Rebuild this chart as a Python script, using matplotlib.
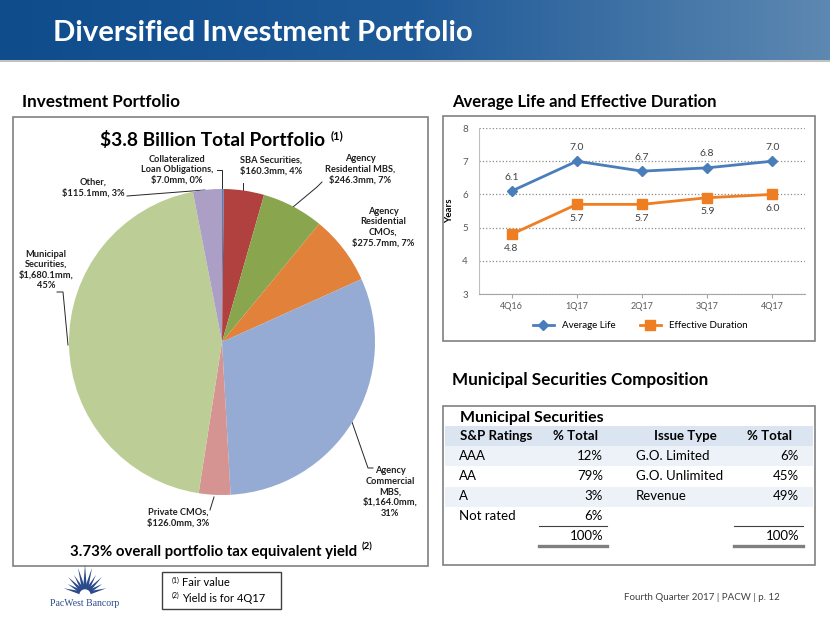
import numpy as np
import matplotlib
matplotlib.use('Agg')
import matplotlib.pyplot as plt
from matplotlib.colors import LinearSegmentedColormap
from matplotlib.patches import Rectangle, Polygon

plt.rcParams['font.family'] = ['Lato', 'DejaVu Sans']
plt.rcParams['text.parse_math'] = False

# pie data ($mm), clockwise from 12 o'clock
pie_labels = ['Collateralized\nLoan Obligations,\n$7.0mm, 0%',
              'SBA Securities,\n$160.3mm, 4%',
              'Agency\nResidential MBS,\n$246.3mm, 7%',
              'Agency\nResidential\nCMOs,\n$275.7mm, 7%',
              'Agency\nCommercial\nMBS,\n$1,164.0mm,\n31%',
              'Private CMOs,\n$126.0mm, 3%',
              'Municipal\nSecurities,\n$1,680.1mm,\n45%',
              'Other,\n$115.1mm, 3%']
pie_values = [7.0, 160.3, 246.3, 275.7, 1164.0, 126.0, 1680.1, 115.1]
pie_colors = ['#4f81bd', '#b0413e', '#89a54e', '#e2823a',
              '#95abd3', '#d59492', '#bccd96', '#ab9fc6']

# average life / effective duration
quarters = ['4Q16', '1Q17', '2Q17', '3Q17', '4Q17']
avg_life = [6.1, 7.0, 6.7, 6.8, 7.0]
eff_duration = [4.8, 5.7, 5.7, 5.9, 6.0]

# municipal securities table
ratings = ['AAA', 'AA', 'A', 'Not rated']
rating_pct = ['12%', '79%', '3%', '6%']
issue_types = ['G.O. Limited', 'G.O. Unlimited', 'Revenue']
issue_pct = ['6%', '45%', '49%']

W, H = 830, 623
fig = plt.figure(figsize=(8.3, 6.23), dpi=100)

# background axes in pixel coords (y down)
bg = fig.add_axes([0, 0, 1, 1])
bg.set_xlim(0, W)
bg.set_ylim(H, 0)
bg.axis('off')

# title bar
cmap = LinearSegmentedColormap.from_list('bar', ['#0e4c8c', '#1f5a98', '#5d88b1'])
grad = np.linspace(0, 1, 256).reshape(1, -1)
bg.imshow(grad, cmap=cmap, extent=[0, W, 60, 0], aspect='auto')
bg.plot([0, W], [61, 61], color='#9a9a9a', lw=1.5, alpha=0.6)
bg.text(53, 33, 'Diversified Investment Portfolio', color='white',
        fontsize=21.2, fontweight='bold', va='center', ha='left')

# section headings
bg.text(22, 102, 'Investment Portfolio', fontsize=12.3, fontweight='bold', va='center')
bg.text(452, 102, 'Average Life and Effective Duration', fontsize=12, fontweight='bold', va='center')
bg.text(452, 380, 'Municipal Securities Composition', fontsize=12.3, fontweight='bold', va='center')

# panel boxes
for x0, y0, x1, y1 in [(13, 117, 428, 566), (443, 116, 815, 341), (443, 406, 815, 565)]:
    bg.add_patch(Rectangle((x0, y0), x1 - x0, y1 - y0, fill=False, ec='#808080', lw=1.2))

# ---- pie ----
cx, cy, r = 222, 342, 153
ax_pie = fig.add_axes([(cx - r) / W, (H - cy - r) / H, 2 * r / W, 2 * r / H])
ax_pie.pie(pie_values, colors=pie_colors, startangle=90, counterclock=False,
           wedgeprops=dict(linewidth=0))
ax_pie.set_xlim(-1, 1)
ax_pie.set_ylim(-1, 1)
ax_pie.axis('off')

bg.text(100, 140, '$3.8 Billion Total Portfolio', fontsize=13.8, fontweight='bold', va='center')
bg.text(331, 136, '(1)', fontsize=8, fontweight='bold', va='center')

label_pos = [(177, 170), (271, 166), (360, 169), (383, 227),
             (390, 492), (178, 518), (46, 270), (93, 188)]
for lab, (tx, ty) in zip(pie_labels, label_pos):
    bg.text(tx, ty, lab, fontsize=6.7, fontweight='bold', ha='center', va='center',
            multialignment='center', linespacing=1.2, color='#1f1f1f')

leaders = [([217, 222, 222], [170, 170, 190]),
           ([243, 243], [183, 190]),
           ([322, 317, 293], [182, 187, 207]),
           ([352, 368, 373], [422, 468, 468]),
           ([214, 210], [497, 510]),
           ([57, 63, 68], [292, 292, 345]),
           ([127, 205], [196, 190])]
for xs, ys in leaders:
    bg.plot(xs, ys, color='#262626', lw=0.7)

bg.text(70, 552, '3.73% overall portfolio tax equivalent yield', fontsize=10.8,
        fontweight='bold', va='center')
bg.text(362, 547, '(2)', fontsize=7, fontweight='bold', va='center')

# ---- line chart ----
ax = fig.add_axes([479 / W, 1 - 294 / H, 326 / W, 166 / H])
x = np.arange(len(quarters))
ax.plot(x, avg_life, color='#4a7ebb', lw=2, marker='D', ms=5, label='Average Life')
ax.plot(x, eff_duration, color='#ef7d22', lw=2, marker='s', ms=7, label='Effective Duration')
for i in x:
    ax.annotate(f'{avg_life[i]:.1f}', (i, avg_life[i]), xytext=(0, 10), textcoords='offset points',
                ha='center', va='center', fontsize=7.5, color='#404040')
    ax.annotate(f'{eff_duration[i]:.1f}', (i, eff_duration[i]), xytext=(0, -10), textcoords='offset points',
                ha='center', va='center', fontsize=7.5, color='#404040')
ax.set_xlim(-0.5, len(quarters) - 0.5)
ax.set_ylim(3, 8)
ax.set_yticks([3, 4, 5, 6, 7, 8])
ax.set_xticks(x)
ax.set_xticklabels(quarters)
ax.grid(axis='y', linestyle=':', color='#8c8c8c', lw=0.9)
ax.set_axisbelow(True)
for s in ['top', 'right']:
    ax.spines[s].set_visible(False)
ax.spines['left'].set_color('#bfbfbf')
ax.spines['bottom'].set_color('#a6a6a6')
ax.tick_params(axis='y', length=0, labelsize=7, labelcolor='#595959', pad=8)
ax.tick_params(axis='x', length=3, color='#a6a6a6', labelsize=6.5, labelcolor='#595959', pad=3)
ax.set_ylabel('Years', fontsize=7, fontweight='bold', labelpad=6)
fig.legend(loc='center', bbox_to_anchor=(640 / W, 1 - 326 / H), ncol=2, frameon=False,
           fontsize=7, handlelength=2.2, columnspacing=2.5)

# ---- municipal table ----
bg.text(460, 418, 'Municipal Securities', fontsize=11.5, fontweight='bold', va='center')
bg.add_patch(Rectangle((445, 426), 368, 20, color='#dbe5f1', lw=0))
row_y = [456, 476, 496.5, 516]
for i in [0, 2]:
    bg.add_patch(Rectangle((445, row_y[i] - 10), 368, 20, color='#edf2f8', lw=0))
bg.text(460, 436, 'S&P Ratings', fontsize=9.5, fontweight='bold', va='center')
bg.text(575, 436, '% Total', fontsize=9.5, fontweight='bold', va='center', ha='center')
bg.text(685, 436, 'Issue Type', fontsize=9.5, fontweight='bold', va='center', ha='center')
bg.text(769, 436, '% Total', fontsize=9.5, fontweight='bold', va='center', ha='center')
for i, (rt, pc) in enumerate(zip(ratings, rating_pct)):
    bg.text(459, row_y[i], rt, fontsize=9.5, va='center')
    bg.text(603, row_y[i], pc, fontsize=9.5, va='center', ha='right')
for i, (it, pc) in enumerate(zip(issue_types, issue_pct)):
    bg.text(636, row_y[i], it, fontsize=9.5, va='center')
    bg.text(799, row_y[i], pc, fontsize=9.5, va='center', ha='right')
bg.text(603, 536, '100%', fontsize=9.5, va='center', ha='right')
bg.text(799, 536, '100%', fontsize=9.5, va='center', ha='right')
for xa, xb in [(539, 607), (734, 803)]:
    bg.plot([xa, xb], [525.5, 525.5], color='#404040', lw=0.8)
    bg.plot([xa, xb], [546, 546], color='#7f7f7f', lw=2.4)

# ---- footer ----
bg.add_patch(Rectangle((162, 572), 119, 37, fill=False, ec='#404040', lw=1))
bg.text(172, 580, '(1)', fontsize=5, va='center')
bg.text(182, 583, 'Fair value', fontsize=8, va='center')
bg.text(172, 595, '(2)', fontsize=5, va='center')
bg.text(182, 598, 'Yield is for 4Q17', fontsize=8, va='center')
bg.text(780, 598, 'Fourth Quarter 2017 | PACW | p. 12', fontsize=7, va='center',
        ha='right', color='#404040')

# logo: simple starburst
lx, ly = 85, 594
for ang, ln in zip(np.linspace(15, 165, 11), [22, 20, 24, 22, 27, 30, 27, 22, 24, 20, 22]):
    a = np.radians(ang)
    tip = (lx + ln * np.cos(a), ly - ln * np.sin(a))
    pa = a + np.pi / 2
    b1 = (lx + 2.2 * np.cos(pa), ly - 2.2 * np.sin(pa))
    b2 = (lx - 2.2 * np.cos(pa), ly + 2.2 * np.sin(pa))
    bg.add_patch(Polygon([b1, tip, b2], closed=True, color='#2b4a8c', lw=0))
bg.add_patch(plt.Circle((lx, ly + 1), 5, color='white', zorder=3))
bg.text(lx, 603, 'PacWest Bancorp', family='Liberation Serif', fontsize=7,
        color='#2b4a8c', ha='center', va='center', zorder=4)

fig.savefig('out.png', dpi=100)
